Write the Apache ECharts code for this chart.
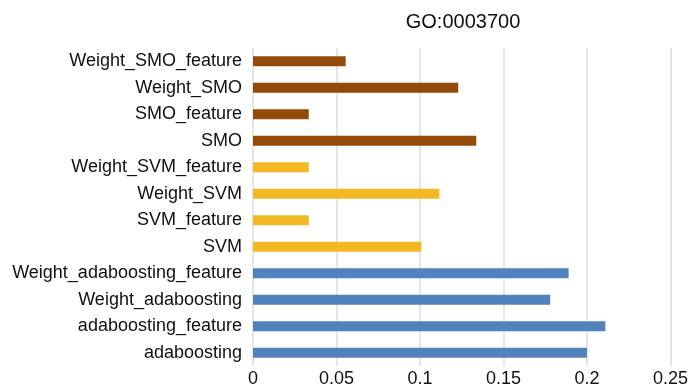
<!DOCTYPE html>
<html>
<head>
<meta charset="utf-8">
<script src="https://cdn.jsdelivr.net/npm/echarts@6/dist/echarts.min.js"></script>
<style>
  html, body { margin: 0; padding: 0; background: #fff; }
  #main { width: 691px; height: 388px; }
</style>
</head>
<body>
<div id="main"></div>
<script>
// categories, bottom to top
var categories = ['adaboosting', 'adaboosting_feature', 'Weight_adaboosting', 'Weight_adaboosting_feature',
  'SVM', 'SVM_feature', 'Weight_SVM', 'Weight_SVM_feature',
  'SMO', 'SMO_feature', 'Weight_SMO', 'Weight_SMO_feature'];
var values = [0.200, 0.211, 0.178, 0.189,
  0.1008, 0.0334, 0.1116, 0.0334,
  0.1337, 0.0334, 0.1229, 0.0555];
var groups = ['ada', 'ada', 'ada', 'ada', 'svm', 'svm', 'svm', 'svm', 'smo', 'smo', 'smo', 'smo'];
var xTicks = [0, 0.05, 0.1, 0.15, 0.2, 0.25];

var groupColor = { ada: '#5282BB', svm: '#F3B925', smo: '#944A09' };

var barData = [];
for (var i = 0; i < values.length; i++) {
  barData.push({ value: values[i], itemStyle: { color: groupColor[groups[i]] } });
}

var myChart = echarts.init(document.getElementById('main'));
var option = {
  animation: false,
  backgroundColor: '#fff',
  title: {
    text: 'GO:0003700',
    left: 458,
    top: 7,
    textAlign: 'center',
    textStyle: { fontFamily: 'Liberation Sans', fontSize: 20, fontWeight: 'normal', color: '#111' }
  },
  grid: { left: 253, right: 19, top: 48, bottom: 18 },
  xAxis: {
    type: 'value',
    min: xTicks[0],
    max: xTicks[xTicks.length - 1],
    interval: 0.05,
    axisLine: { show: false },
    axisTick: { show: false },
    axisLabel: {
      fontFamily: 'Liberation Sans', fontSize: 18, color: '#111', margin: 4,
      formatter: function (v) { return String(+v.toFixed(2)); }
    },
    splitLine: { show: true, lineStyle: { color: '#dedede', width: 1.5 } }
  },
  yAxis: {
    type: 'category',
    data: categories,
    axisLine: { show: false },
    axisTick: { show: false },
    axisLabel: { fontFamily: 'Liberation Sans', fontSize: 18, color: '#111', margin: 11 }
  },
  series: [{
    type: 'bar',
    data: barData,
    barWidth: 10
  }]
};
myChart.setOption(option);
</script>
</body>
</html>
